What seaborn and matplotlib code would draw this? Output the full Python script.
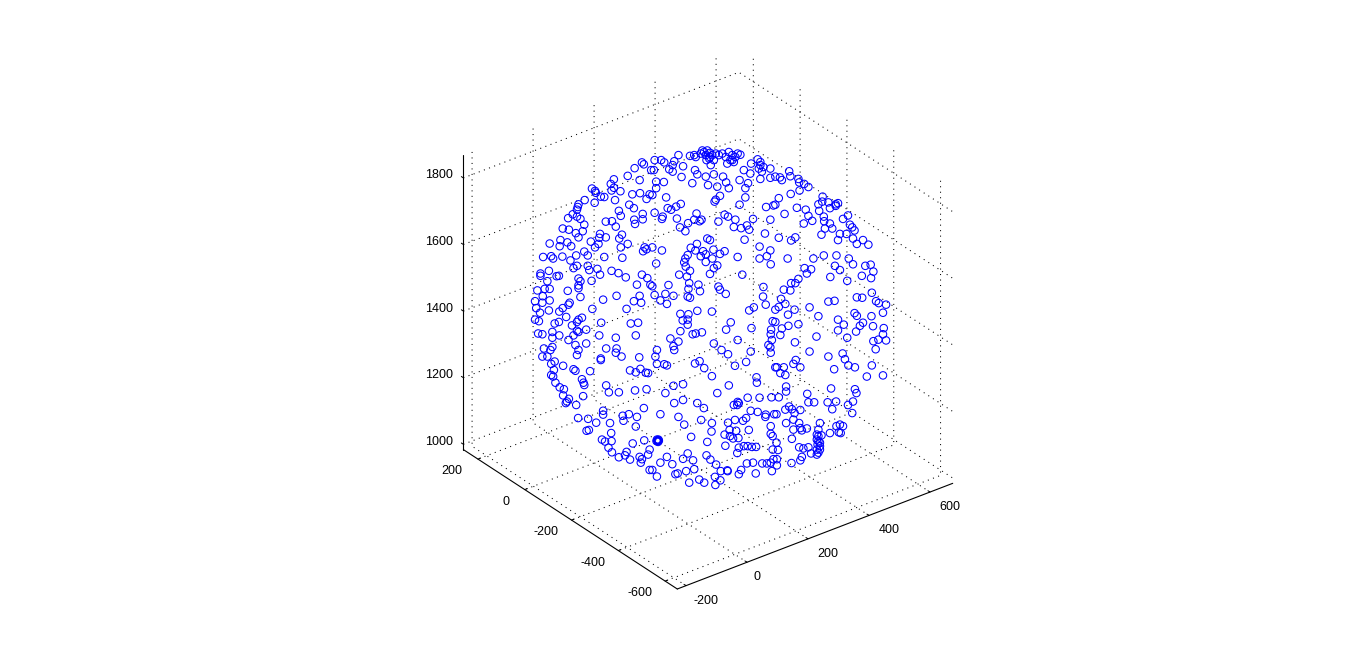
import numpy as np
import matplotlib
matplotlib.use("Agg")
import matplotlib.pyplot as plt
import matplotlib.transforms as mtransforms
import seaborn as sns
from mpl_toolkits.mplot3d import proj3d

# Tick labels
x_ticks = [-200, 0, 200, 400, 600]
y_ticks = [-600, -400, -200, 0, 200]
z_ticks = [1000, 1200, 1400, 1600, 1800]
x_limits = (-228.5, 674.5)
y_limits = (-652, 262)
z_limits = (984, 1869)

# Sphere of points: centre and radius in data units
sphere_centre = (228, -200, 1429)
sphere_radius = 465

# Each point, in data units from the sphere centre:
# across = along the viewing plane's horizontal, rise = along its vertical
across_nw = [-179,-174,-198,-155,-216,-185,-252,-260,-252,-258,-235,-309,-301,-299,-286,-277,-302,-328,-249,-204,-184,-167,-159,-212,-200,-344,-346,-348,-239,-234,-177,-177,-199,-197,-359,-371,-348,-339,-329,-273,-257,-247,-385,-369,-351,-333,-344,-288,-290,-273,-312,-231,-238,-216,-234,-419,-391,-393,-373,-363,-292,-301,-172,-167,-176,-329,-320,-350,-277,-230,-436,-415,-410,-386,-365]
rise_nw = [406,401,391,386,371,360,362,350,340,333,331,338,332,327,317,316,301,308,308,323,326,311,323,296,287,297,290,283,280,267,272,258,257,246,271,261,265,259,244,252,253,239,234,231,222,227,211,220,210,211,200,218,208,194,185,195,204,188,198,188,194,185,185,180,175,174,164,164,160,158,160,162,156,161,151]

across_n = [-146,-129,-121,-84,-95,-99,-108,-99,-72,-148,-54,-43,-39,-22,-26,-9,-13,-4,4,8,0,21,30,47,56,64,77,51,43,60,105,122,129,125,137,133,155,86,103,-41,-35,-13,8,32,-76,-48,-7,17,40,47,75,97,90,129,155,-142,-122,-142,-152,-116,24,13,10,90,75,144,163,-78,-90,-103,-112,-146,-125,-127,-88,-37,-43,-24,-29,-59,-80,-66,20,36,45,64,60,79,94,100,110,155,141,88,-9,-2,-36,-52,-20,-40,-13,7,36,24,-60,-66,-127,-152,70,127,155,146,127,4,-26,-17,-2,13,-2,-11,39,70,56,129]
rise_n = [412,412,406,425,409,399,388,382,396,386,423,425,420,437,429,437,425,416,425,412,399,425,429,433,425,420,426,412,403,407,403,414,399,390,394,382,390,386,377,386,375,369,375,369,368,352,347,343,354,339,360,352,339,363,366,356,355,339,321,315,319,309,304,315,296,290,294,298,291,283,287,275,265,259,260,273,257,257,253,248,237,227,252,270,265,257,238,235,242,231,259,257,221,205,208,204,194,184,175,177,167,179,175,168,165,156,177,185,160,187,177,162,156,156,162,433,431,429,420,412,420,429,412,407]

across_ne = [204,207,180,185,168,228,230,243,254,231,208,177,291,280,306,290,331,325,325,310,282,224,247,192,254,264,242,294,295,310,297,316,288,344,357,362,368,374,353,336,331,370,380,396,410,177,220,209,200,267,294,327,359,168]
rise_ne = [383,370,367,360,369,363,354,350,342,333,324,313,317,297,302,304,300,297,293,287,280,288,283,272,267,254,247,265,253,247,234,234,218,259,268,244,237,229,220,220,204,208,194,204,192,210,211,203,156,156,164,164,156,296]

across_w = [-348,-357,-320,-316,-295,-288,-258,-240,-221,-179,-165,-192,-157,-443,-443,-421,-395,-401,-425,-344,-339,-344,-344,-310,-432,-419,-451,-372,-437,-339,-245,-280,-185,-200,-181,-457,-438,-419,-367,-370,-454,-421,-385,-394,-444,-219,-308,-376,-335,-344,-348,-457,-447,-395,-406,-361,-285,-208,-189,-324,-348,-357,-344,-412,-449,-438,-394,-412,-370,-290,-247,-195,-352,-324,-434,-412,-417,-272,-245,-247,-232,-344,-348,-438,-425,-186,-286,-286,-406,-415,-384,-357,-352,-408,-314,-210,-195,-183,-169,-163,-415,-410,-335]
rise_w = [137,131,137,126,129,114,124,118,107,114,105,88,88,117,111,124,111,110,97,104,97,86,79,98,77,77,73,72,58,56,59,49,59,45,41,45,41,47,41,36,27,21,27,18,15,25,25,4,2,-3,-9,-3,-7,-9,-13,-18,-11,-13,-11,-29,-32,-44,-35,-35,-39,-41,-44,-50,-56,-44,-50,-44,-69,-65,-78,-74,-82,-78,-78,-89,-99,-82,-95,-99,-99,-101,-104,-108,-112,-118,-123,-132,-136,-134,-137,-135,-140,-131,-141,-142,-147,-151,-158]

across_c = [-142,-69,-65,-54,-82,-62,-13,17,8,-2,82,156,-110,-56,-32,-58,-28,20,24,39,137,-152,-146,-118,-97,-60,-54,-131,-114,136,143,-79,-58,-35,3,100,112,-73,-60,-60,52,40,161,106,157,156,-79,-47,-39,-23,-105,-84,8,70,159,-97,-95,150,155,28,45,104,156,-140,-144,-140,-121,-114,-41,-29,-17,92,63,3,119,168]
rise_c = [143,146,135,124,114,109,147,138,131,116,114,141,87,92,88,77,71,83,75,64,82,84,61,64,59,57,54,47,38,57,36,12,11,20,18,21,29,-5,-3,-16,-10,-29,-7,-25,-29,-41,-33,-41,-39,-36,-52,-60,-65,-56,-56,-72,-82,-69,-75,-82,-93,-86,-89,-82,-99,-118,-119,-122,-117,-111,-129,-113,-123,-150,-153,-127]

across_e = [244,261,250,323,336,402,416,370,423,393,417,311,355,228,220,209,190,207,419,183,194,177,168,380,394,306,322,430,437,456,448,257,218,201,374,380,418,280,331,396,346,388,422,228,202,185,168,331,378,450,448,181,275,355,436,456,423,219,429,257,343,306,349,358,375,419,321,221,215,233,190,172,194,181,406,448]
rise_e = [131,128,117,137,126,137,140,141,122,111,105,108,98,103,92,92,75,73,67,51,38,30,23,55,54,44,46,45,40,36,15,29,23,10,14,7,6,6,-3,-11,-16,-19,-20,-15,-19,-26,-9,-31,-34,-25,-41,-43,-47,-50,-55,-57,-59,-62,-80,-86,-91,-99,-106,-122,-127,-122,-132,-108,-118,-127,-127,-127,-147,-142,-151,-148]

across_sw = [-404,-393,-382,-331,-329,-272,-265,-239,-197,-167,-384,-369,-374,-377,-350,-332,-174,-280,-280,-229,-213,-192,-227,-345,-319,-298,-262,-195,-323,-317,-259,-283,-275,-258,-203,-173,-266,-257,-219,-223,-239,-210,-185,-179,-182,-159,-163,-159]
rise_sw = [-167,-179,-184,-167,-173,-174,-192,-192,-187,-184,-200,-209,-216,-220,-225,-202,-233,-240,-250,-253,-249,-256,-266,-259,-261,-271,-272,-281,-292,-290,-298,-315,-320,-319,-325,-317,-336,-348,-347,-356,-361,-367,-360,-366,-375,-341,-354,-394]

across_s = [-97,-72,-118,47,17,120,-95,-72,-35,-18,96,127,158,60,69,73,70,-131,-84,-69,-25,3,104,122,143,142,165,45,63,84,92,156,2,99,49,66,36,50,58,72,156,161,-51,-138,-136,-140,-138,-135,-141,-137,-9,38,73,86,96,107,118,69,161,-60,-114,-72,-46,-131,-100,-11,-1,14,94,110,134,146,156,163,-64,-43,-86,-92,26,43,79,73,117,159,-140,-152,-56,-30,-17,11,25,12,44]
rise_s = [-175,-171,-194,-174,-194,-167,-220,-212,-220,-233,-206,-206,-205,-225,-225,-220,-217,-249,-256,-276,-264,-272,-240,-243,-250,-256,-249,-271,-264,-266,-259,-280,-294,-290,-290,-292,-302,-306,-312,-311,-300,-306,-308,-317,-315,-315,-319,-318,-319,-321,-321,-331,-336,-332,-332,-334,-334,-350,-341,-351,-360,-365,-369,-375,-379,-356,-367,-380,-377,-375,-377,-377,-375,-366,-397,-392,-403,-405,-397,-395,-394,-405,-403,-397,-411,-394,-427,-419,-427,-412,-421,-433,-397]

across_se = [196,196,177,251,254,269,313,375,379,304,326,316,370,357,368,204,194,211,233,218,171,215,196,284,230,233,250,237,215,280,336,327,344,310,333,338,276,288,211,280,278,284,276,280,230,241,254,261,276,237,233,210,171,175,172,172,280,284,276,284]
rise_se = [-177,-190,-205,-196,-218,-218,-182,-184,-194,-218,-216,-236,-216,-225,-246,-229,-237,-236,-238,-246,-249,-263,-272,-272,-272,-285,-286,-291,-289,-289,-276,-280,-280,-298,-296,-298,-302,-304,-313,-319,-328,-332,-341,-349,-335,-338,-335,-351,-354,-360,-369,-376,-323,-342,-366,-382,-306,-323,-315,-341]

across = np.array(across_nw + across_n + across_ne + across_w + across_c + across_e + across_sw + across_s + across_se, float)
rise = np.array(rise_nw + rise_n + rise_ne + rise_w + rise_c + rise_e + rise_sw + rise_s + rise_se, float)

elev, azim = 30.0, -127.5
el, az = np.radians(elev), np.radians(azim)
right = np.array([-np.sin(az), np.cos(az), 0.0])
up = np.array([-np.sin(el) * np.cos(az), -np.sin(el) * np.sin(az), np.cos(el)])
toward = np.array([np.cos(el) * np.cos(az), np.cos(el) * np.sin(az), np.sin(el)])
# The picture has no depth, so each point is placed on the viewer's side of the sphere
depth = np.sqrt(np.clip(sphere_radius ** 2 - across ** 2 - rise ** 2, 0, None))
pts = np.array(sphere_centre) + np.outer(across, right) + np.outer(rise, up) + np.outer(depth, toward)

sns.set_style("white")
plt.rcParams["font.family"] = ["Liberation Sans", "DejaVu Sans"]
plt.rcParams["lines.scale_dashes"] = False
blue = sns.color_palette(["#0000ff"])[0]

W, H = 1367, 662
fig = plt.figure(figsize=(W / 100, H / 100), dpi=100, facecolor="white")
side = 640
l0, b0 = (W - side) / 2, (H - side) / 2
ax = fig.add_axes([l0 / W, b0 / H, side / W, side / H], projection="3d", proj_type="ortho")
ax.view_init(elev=elev, azim=azim)
ax.set_xlim(*x_limits, view_margin=0)
ax.set_ylim(*y_limits, view_margin=0)
ax.set_zlim(*z_limits, view_margin=0)
ranges = (x_limits[1] - x_limits[0], y_limits[1] - y_limits[0], z_limits[1] - z_limits[0])
ax.set_box_aspect(ranges, zoom=1)
ax.patch.set_alpha(0)

ax.scatter(pts[:, 0], pts[:, 1], pts[:, 2], s=29, marker="o", facecolors="none",
           edgecolors=[blue], linewidths=0.75, depthshade=False)

ax.set_xticks(x_ticks)
ax.set_yticks(y_ticks)
ax.set_zticks(z_ticks)
ax.tick_params(labelsize=9, pad=3, colors="black")
for axis in (ax.xaxis, ax.yaxis, ax.zaxis):
    axis.set_pane_color((1, 1, 1, 0))
    axis.pane.set_edgecolor((1, 1, 1, 0))
    axis.line.set_color("black")
    axis.line.set_linewidth(0.8)
    axis._axinfo["grid"].update(color="black", linewidth=0.75, linestyle=(0, (0.75, 3.2)))
    axis._axinfo["tick"].update(inward_factor=0.0, outward_factor=0.12, linewidth={True: 0.7, False: 0.7})
ax.grid(True)
# The vertical axis stands at the left corner with its ticks pointing up and left
ax.zaxis._get_tickdir = lambda position: 1
ax.set_xticklabels([str(v) for v in x_ticks])
ax.set_yticklabels([str(v) for v in y_ticks])
ax.set_zticklabels([str(v) for v in z_ticks])


def screen(px, py, pz):
    sx, sy, _ = proj3d.proj_transform(px, py, pz, ax.get_proj())
    return ax.transData.transform((sx, sy))


# Fit the axes box to the corners measured on the reference
target_front = np.array([677.3, H - 589.0])
target_right = np.array([952.7, H - 483.3])
fig.canvas.draw()
front = screen(x_limits[0], y_limits[0], z_limits[0])
far = screen(x_limits[1], y_limits[0], z_limits[0])
zoom = np.linalg.norm(target_right - target_front) / np.linalg.norm(far - front)
ax.set_box_aspect(ranges, zoom=zoom)
fig.canvas.draw()
front = screen(x_limits[0], y_limits[0], z_limits[0])
shift = target_front - front
ax.set_position([(l0 + shift[0]) / W, (b0 + shift[1]) / H, side / W, side / H])


# Axis3D resets tick transforms whenever it fetches its ticks, so the nudge
# that puts labels where the reference has them is applied at that moment.
def nudge_labels(axis, shifts):
    fetch = axis.get_major_ticks

    def fetch_nudged(numticks=None):
        ticks = fetch(numticks)
        for tick, (dx, dy) in zip(ticks, shifts):
            tick.label1.set_transform(ax.transData + mtransforms.Affine2D().translate(dx, dy))
        return ticks

    axis.get_major_ticks = fetch_nudged


nudge_labels(ax.xaxis, [(10, 11), (0, 11), (10, 11), (10, 11), (10, 11)])
nudge_labels(ax.yaxis, [(-13, 12), (-13, 12), (-13, 12), (-6, 12), (-13, 12)])
nudge_labels(ax.zaxis, [(-2, 7)] * 5)

fig.savefig("out.png", dpi=100, facecolor="white")
